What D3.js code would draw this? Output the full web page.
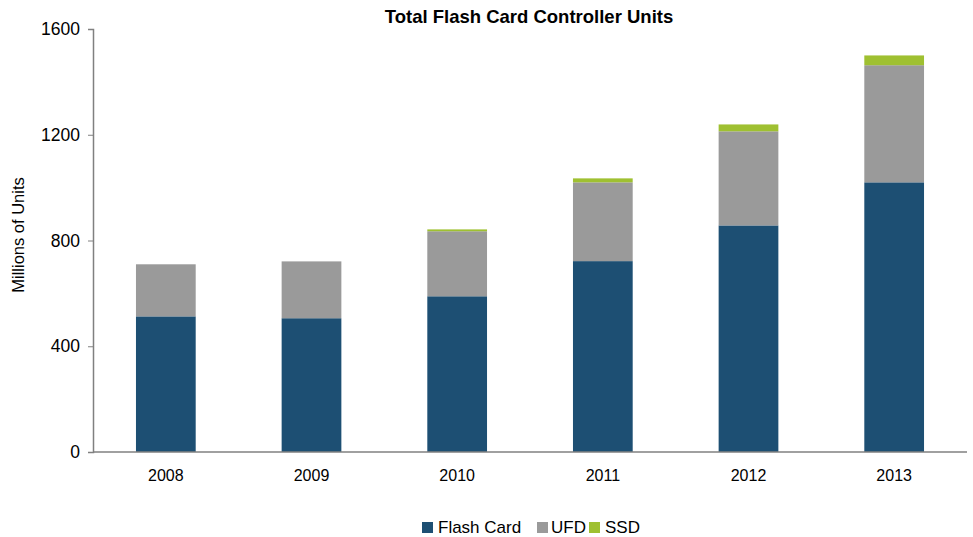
<!DOCTYPE html>
<html>
<head>
<meta charset="utf-8">
<script src="https://cdn.jsdelivr.net/npm/d3@7"></script>
<style>
  body { margin: 0; background: #fff; }
  text { font-family: "Liberation Sans", Arial, sans-serif; }
</style>
</head>
<body>
<svg></svg>
<script>
var years = ["2008", "2009", "2010", "2011", "2012", "2013"];
var flashCard = [513, 506, 589, 722, 857, 1020];
var ufd = [197, 215, 246, 298, 356, 443];
var ssd = [0, 0, 7, 15, 26, 37];
var seriesNames = ["Flash Card", "UFD", "SSD"];
var yTicks = [0, 400, 800, 1200, 1600];

var size = { width: 973, height: 537 };
var svg = d3.select("svg")
            .attr("width", size.width)
            .attr("height", size.height);

var margins = { top: 29, bottom: 85, left: 93, right: 6 };
var width = size.width - margins.left - margins.right;
var height = size.height - margins.top - margins.bottom;

var colors = d3.scaleOrdinal()
               .domain(seriesNames)
               .range(["#1d4f73", "#9a9a9a", "#9fc031"]);

var table = years.map(function(y, i) {
  return { year: y, "Flash Card": flashCard[i], "UFD": ufd[i], "SSD": ssd[i] };
});
var stacked = d3.stack().keys(seriesNames)(table);

var xScale = d3.scaleBand()
               .domain(years)
               .range([0, width])
               .paddingInner(0.59)
               .paddingOuter(0.295);

var yScale = d3.scaleLinear()
               .domain([0, 1600])
               .range([height, 0]);

var plotLand = svg.append("g")
                  .attr("transform", "translate(" + margins.left + "," + margins.top + ")");

plotLand.selectAll("g.series")
        .data(stacked)
        .enter()
        .append("g")
        .classed("series", true)
        .attr("fill", function(d) { return colors(d.key); })
        .selectAll("rect")
        .data(function(d) { return d; })
        .enter()
        .append("rect")
        .attr("x", function(d) { return xScale(d.data.year); })
        .attr("y", function(d) { return yScale(d[1]); })
        .attr("width", xScale.bandwidth())
        .attr("height", function(d) { return yScale(d[0]) - yScale(d[1]); });

// axes
var yAxis = plotLand.append("g")
                    .call(d3.axisLeft(yScale).tickValues(yTicks).tickSize(5).tickPadding(8).tickFormat(d3.format("d")));
var xAxis = plotLand.append("g")
                    .attr("transform", "translate(0," + height + ")")
                    .call(d3.axisBottom(xScale).tickSize(0).tickPadding(18));

[yAxis, xAxis].forEach(function(ax) {
  ax.select(".domain").attr("stroke", "#808080").attr("stroke-width", 1.5);
  ax.selectAll(".tick line").attr("stroke", "#808080");
  ax.selectAll(".tick text").attr("fill", "#000")
    .style("font-family", "'Liberation Sans', Arial, sans-serif");
});
yAxis.selectAll(".tick text").style("font-size", "17.5px");
xAxis.selectAll(".tick text").style("font-size", "16px");
xAxis.select(".domain").attr("d", "M0,0H" + width);

// title
svg.append("text")
   .attr("x", 529)
   .attr("y", 22.5)
   .attr("text-anchor", "middle")
   .style("font-size", "18.5px")
   .style("font-weight", "bold")
   .text("Total Flash Card Controller Units");

// y label
svg.append("text")
   .attr("transform", "translate(24,235) rotate(-90)")
   .attr("text-anchor", "middle")
   .style("font-size", "16.5px")
   .text("Millions of Units");

// legend
var swatchX = [422, 537, 589];
var labelX = [438, 551, 605];
var legend = svg.append("g").classed("legend", true);
var legendLines = legend.selectAll("g")
                        .data(seriesNames)
                        .enter()
                        .append("g");
legendLines.append("rect")
           .attr("x", function(d, i) { return swatchX[i]; })
           .attr("y", 522)
           .attr("width", 11)
           .attr("height", 11)
           .attr("fill", function(d) { return colors(d); });
legendLines.append("text")
           .attr("x", function(d, i) { return labelX[i]; })
           .attr("y", 533)
           .style("font-size", "17px")
           .text(function(d) { return d; });
</script>
</body>
</html>
